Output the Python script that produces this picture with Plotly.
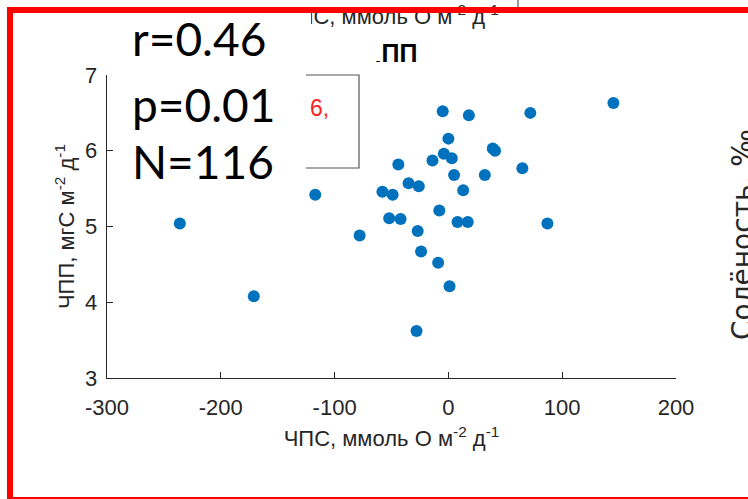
import plotly.graph_objects as go

# ---- data ----
nps = [-236, -171, -117, -78, -58, -49, -52, -42, -44, -35, -26, -27, -24, -28,
       -14, -8, -9, -5, -4, 0, 3, 5, 1, 13, 8, 17, 18, 32, 39, 41, 65, 72, 87, 145]
npp = [5.04, 4.08, 5.42, 4.88, 5.46, 5.42, 5.11, 5.10, 5.82, 5.57, 5.53, 4.94, 4.67, 3.62,
       5.87, 5.21, 4.52, 6.52, 5.96, 6.16, 5.90, 5.68, 4.21, 5.48, 5.06, 5.06, 6.47, 5.68,
       6.03, 6.00, 5.77, 6.50, 5.04, 6.63]
x_ticks = [-300, -200, -100, 0, 100, 200]
y_ticks = [3, 4, 5, 6, 7]
stats = ["r=0.46", "p=0.01", "N=116"]

W, H = 748, 499
L, R, T, B = 107, 676, 75, 378  # plot area in pixels


def px(x):
    return (x - L) / (R - L)


def py(y):
    return (B - y) / (B - T)


AX = "#262626"
FONT = "Liberation Sans, Arial, sans-serif"

fig = go.Figure()
fig.add_trace(go.Scatter(
    x=nps, y=npp, mode="markers",
    marker=dict(color="#0072BD", size=12),
    showlegend=False, hoverinfo="skip"))

axis_common = dict(
    showline=True, linecolor=AX, linewidth=1.3, ticks="inside", ticklen=6,
    tickcolor=AX, tickwidth=1.3, showgrid=False, zeroline=False, mirror=False,
    tickfont=dict(family=FONT, size=22, color=AX),
)

fig.update_layout(
    width=W, height=H,
    margin=dict(l=L, r=W - R, t=T, b=H - B),
    paper_bgcolor="white", plot_bgcolor="white",
    xaxis=dict(range=[-300, 200], tickvals=x_ticks, ticktext=[str(v) for v in x_ticks],
               ticklabelstandoff=9,
               title=dict(text="ЧПС, ммоль О м<sup>-2</sup> д<sup>-1</sup>",
                          font=dict(family=FONT, size=22, color=AX), standoff=12),
               **axis_common),
    yaxis=dict(range=[3, 7], tickvals=y_ticks, ticktext=[str(v) for v in y_ticks],
               ticklabelstandoff=4,
               title=dict(text="ЧПП, мгС м<sup>-2</sup> д<sup>-1</sup>",
                          font=dict(family=FONT, size=22, color=AX), standoff=4),
               **axis_common),
)

shapes = []
# legend box (partly hidden)
shapes.append(dict(type="rect", xref="paper", yref="paper",
                   x0=px(200), x1=px(359), y0=py(168), y1=py(75),
                   line=dict(color="#555555", width=1.2), layer="above"))
# small line at the top
shapes.append(dict(type="line", xref="paper", yref="paper",
                   x0=px(518), x1=px(518), y0=py(-2), y1=py(10),
                   line=dict(color="#555555", width=1.2)))
# red frame: left and bottom
shapes.append(dict(type="rect", xref="paper", yref="paper",
                   x0=px(7), x1=px(13), y0=py(505), y1=py(7),
                   fillcolor="#FF0000", line=dict(width=0), layer="above"))
shapes.append(dict(type="rect", xref="paper", yref="paper",
                   x0=px(7), x1=px(760), y0=py(505), y1=py(497),
                   fillcolor="#FF0000", line=dict(width=0), layer="above"))
fig.update_layout(shapes=shapes)

ann = []
# cut-off axis title of the upper chart
ann.append(dict(xref="paper", yref="paper", x=px(391), y=py(31), xanchor="center", yanchor="bottom",
                text="ЧПС, ммоль О м<sup>-2</sup> д<sup>-1</sup>", showarrow=False,
                font=dict(family=FONT, size=22, color=AX)))
# title (partly hidden)
ann.append(dict(xref="paper", yref="paper", x=px(391), y=py(53), xanchor="center", yanchor="middle",
                text="<b>ЧПП</b>", showarrow=False,
                font=dict(family=FONT, size=25, color="#000000")))
# red text inside legend box
ann.append(dict(xref="paper", yref="paper", x=px(308), y=py(108), xanchor="left", yanchor="middle",
                text="6,", showarrow=False,
                font=dict(family=FONT, size=23, color="#FF2020")))
# right axis label (cut)
ann.append(dict(xref="paper", yref="paper", x=px(743), y=py(235), xanchor="center", yanchor="middle",
                text="Солёность, ‰", textangle=-90, showarrow=False,
                font=dict(family="DejaVu Sans, sans-serif", size=28, color=AX)))
# white covers
ann.append(dict(xref="paper", yref="paper", x=px(113), y=py(0), xanchor="left", yanchor="top",
                text=" ", width=306 - 113, height=190, bgcolor="white", borderpad=0, borderwidth=0,
                showarrow=False))
ann.append(dict(xref="paper", yref="paper", x=px(113), y=py(0), xanchor="left", yanchor="top",
                text=" ", width=311 - 113, height=30, bgcolor="white", borderpad=0, borderwidth=0,
                showarrow=False))
ann.append(dict(xref="paper", yref="paper", x=px(300), y=py(30), xanchor="left", yanchor="top",
                text=" ", width=381 - 300, height=31, bgcolor="white", borderpad=0, borderwidth=0,
                showarrow=False))
# red frame: top bar (over the text)
ann.append(dict(xref="paper", yref="paper", x=px(7), y=py(7), xanchor="left", yanchor="top",
                text=" ", width=760, height=6, bgcolor="#FF0000", borderpad=0, borderwidth=0,
                showarrow=False))
# statistics text
for txt, yc in zip(stats, [39, 104, 161]):
    ann.append(dict(xref="paper", yref="paper", x=px(130), y=py(yc), xanchor="left", yanchor="middle",
                    text=txt, showarrow=False,
                    font=dict(family="Lato, Open Sans, sans-serif", size=46, color="#000000")))
fig.update_layout(annotations=ann)

fig.write_html("out.html", config={"displayModeBar": False, "staticPlot": True},
               post_script="document.body.style.margin='0';document.body.style.overflow='hidden';")
